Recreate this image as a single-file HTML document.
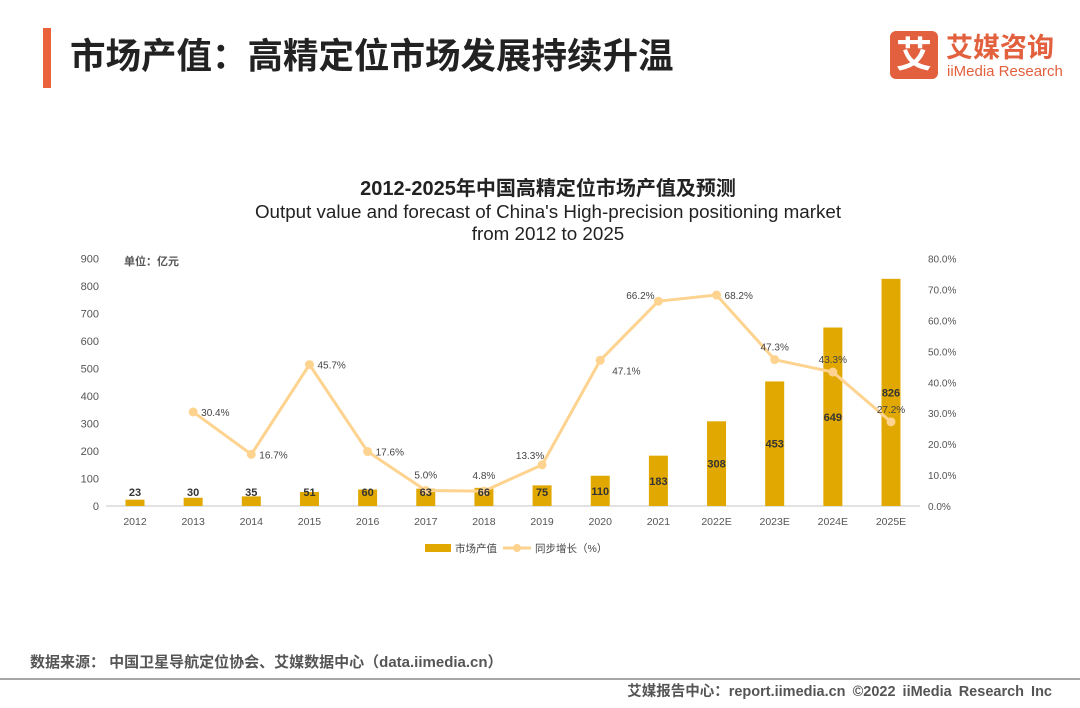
<!DOCTYPE html>
<html><head><meta charset="utf-8">
<style>
body{margin:0;width:1080px;height:703px;background:#fff;overflow:hidden;font-family:"Liberation Sans","Noto Sans CJK SC",sans-serif;}
</style></head>
<body>
<svg width="1080" height="703" viewBox="0 0 1080 703" xmlns="http://www.w3.org/2000/svg" font-family="Liberation Sans, Noto Sans CJK SC, sans-serif">
<rect x="43" y="28" width="8" height="60" fill="#e9623c"/>
<text x="70" y="68" font-size="35.5" font-weight="bold" fill="#222">市场产值：高精定位市场发展持续升温</text>
<g>
<rect x="890" y="31" width="48" height="48" rx="6" fill="#e2603d"/>
<text x="914" y="67" font-size="36" font-weight="bold" fill="#fff" text-anchor="middle">艾</text>
<text x="946" y="57" font-size="27" font-weight="bold" fill="#e2603d">艾媒咨询</text>
<text x="947" y="76" font-size="15" fill="#e2603d">iiMedia Research</text>
</g>
<text x="548" y="195" font-size="20" font-weight="bold" fill="#222" text-anchor="middle">2012-2025年中国高精定位市场产值及预测</text>
<text x="548" y="218" font-size="18.8" fill="#222" text-anchor="middle">Output value and forecast of China's  High-precision positioning market</text>
<text x="548" y="240" font-size="18.8" fill="#222" text-anchor="middle">from 2012 to 2025</text>
<text x="124" y="265" font-size="11" font-weight="bold" fill="#555">单位：亿元</text>
<g id="chart"></g>
<g>
<rect x="425" y="544" width="26" height="8" fill="#e0a800"/>
<text x="455" y="552" font-size="10.5" fill="#444">市场产值</text>
<line x1="503" y1="548" x2="531" y2="548" stroke="#fdd38f" stroke-width="3"/>
<circle cx="517" cy="548" r="4" fill="#fdd38f"/>
<text x="535" y="552" font-size="10.5" fill="#444">同步增长（%）</text>
</g>
<text x="30" y="667" font-size="15" font-weight="bold" fill="#555">数据来源：  中国卫星导航定位协会、艾媒数据中心（data.iimedia.cn）</text>
<line x1="0" y1="679" x2="1080" y2="679" stroke="#888" stroke-width="1.5"/>
<text x="1052" y="696" font-size="14.5" font-weight="bold" fill="#555" text-anchor="end" word-spacing="3">艾媒报告中心：report.iimedia.cn   ©2022  iiMedia Research  Inc</text>
</svg>
<script>
const categories=["2012","2013","2014","2015","2016","2017","2018","2019","2020","2021","2022E","2023E","2024E","2025E"];
const values=[23,30,35,51,60,63,66,75,110,183,308,453,649,826];
const growth=[null,30.4,16.7,45.7,17.6,5.0,4.8,13.3,47.1,66.2,68.2,47.3,43.3,27.2];
const leftTicks=[0,100,200,300,400,500,600,700,800,900];
const rightTicks=[0,10,20,30,40,50,60,70,80];
const NS="http://www.w3.org/2000/svg";
const g=document.getElementById('chart');
const X0=135,STEP=(891-135)/13,Y0=506,H=247.5;
const x=i=>X0+i*STEP;
const yL=v=>Y0-v/900*H;
const yR=v=>Y0-v/80*H;
function mk(t,a,txt){const e=document.createElementNS(NS,t);for(const k in a)e.setAttribute(k,a[k]);if(txt!==undefined)e.textContent=txt;g.appendChild(e);return e;}
leftTicks.forEach(v=>{const e=mk('text',{x:99,y:yL(v)+4,'font-size':11,fill:'#555','text-anchor':'end'},v);

});
rightTicks.forEach(v=>{const e=mk('text',{x:928,y:yR(v)+4,'font-size':10,fill:'#555'},v.toFixed(1)+'%');

});
const ax=mk('line',{x1:106,y1:Y0,x2:920,y2:Y0,stroke:'#d9d9d9','stroke-width':1.5});


categories.forEach((c,i)=>{const e=mk('text',{x:x(i),y:525,'font-size':10.5,fill:'#555','text-anchor':'middle'},c);

});
values.forEach((v,i)=>{const top=yL(v);
const b=mk('rect',{x:x(i)-9.5,y:top,width:19,height:Y0-top,fill:'#e0a800'});

});
let pts=[];growth.forEach((v,i)=>{if(v!==null)pts.push([x(i),yR(v)]);});
const pl=mk('polyline',{points:pts.map(p=>p.join(',')).join(' '),fill:'none',stroke:'#fdd38f','stroke-width':3,'stroke-linejoin':'round'});


growth.forEach((v,i)=>{if(v===null)return;const px=x(i),py=yR(v);
const c=mk('circle',{cx:px,cy:py,r:4.5,fill:'#fdd38f'});


let lx=px+8,ly=py+4,anc='start';
if(i===5||i===6){lx=px;ly=py-12;anc='middle';}
else if(i===7){lx=px-12;ly=py-6;anc='middle';}
else if(i===8){lx=px+12;ly=py+14;}
else if(i===9){lx=px-18;ly=py-2;anc='middle';}
else if(i>=11){lx=px;ly=py-9;anc='middle';}
const t=mk('text',{x:lx,y:ly,'font-size':10,fill:'#444','text-anchor':anc},v.toFixed(1)+'%');

});
values.forEach((v,i)=>{const top=yL(v);
const ly=Math.min(Y0-14,(top+Y0)/2);
const t=mk('text',{x:x(i),y:ly+4,'font-size':11,'font-weight':'bold',fill:'#333','text-anchor':'middle'},v);

});
</script>
</body></html>
